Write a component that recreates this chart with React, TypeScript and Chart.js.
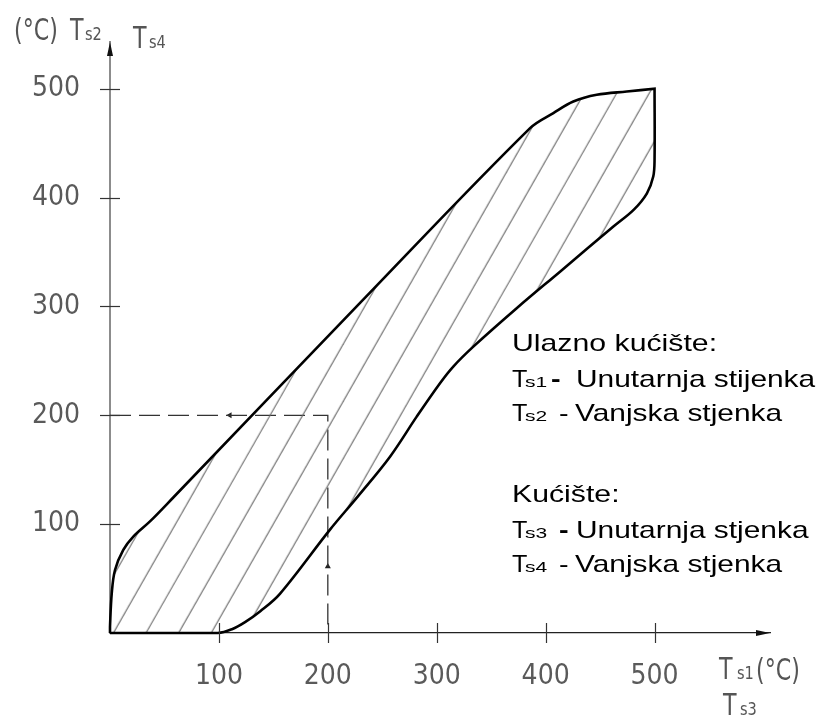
import React, { useEffect, useRef } from "react";
import { Chart, registerables } from "chart.js";

Chart.register(...registerables);

// Outline of the hatched band: upper branch (Ts2 / Ts4 vs Ts1 / Ts3), °C
const upperTs1 = [0, 0, 1.6, 4.6, 12.2, 21.4, 36.7, 58.1, 229.6, 385.7, 407.1, 425.4, 446.9, 474.5, 500];
const upperTs2 = [0, 5.8, 36.5, 57.9, 76.3, 88.5, 102.5, 124.5, 303.3, 463.9, 477.7, 488.3, 494.5, 497.5, 500];
// lower branch, walked back from (500, 500) to the origin
const lowerTs1 = [500, 500, 498.8, 493, 481, 462.2, 413.2, 373.4, 333.6, 315.2, 303, 281.6, 257.1, 228, 202, 156, 138, 124, 112, 99, 0];
const lowerTs2 = [500, 435, 419.4, 404, 389, 373.4, 332, 298.4, 263.1, 244.8, 229.5, 198.8, 162, 126, 95, 36, 20, 10, 3.5, 0, 0];

// dashed reading example (Ts1 = 200 -> Ts2 = 200)
const dashTs1 = [0, 200, 200];
const dashTs2 = [200, 200, 0];
// small arrow marks on the dashed line
const arrowTs1 = [110, 200];
const arrowTs2 = [200, 61];
const arrowRot = [-90, 0];

const tickValues = [100, 200, 300, 400, 500];
const xMax = 606;
const yMax = 543;

const legendLines = [
  { head: "Ulazno kućište:", sub: "", rest: "" },
  { head: "T", sub: "s1", rest: "Unutarnja stijenka" },
  { head: "T", sub: "s2", rest: "Vanjska stjenka" },
  { head: "Kućište:", sub: "", rest: "" },
  { head: "T", sub: "s3", rest: "Unutarnja stjenka" },
  { head: "T", sub: "s4", rest: "Vanjska stjenka" },
];

const ISO = '"Liberation Sans Narrow", "DejaVu Sans Condensed", sans-serif';
const SANS = '"Liberation Sans", Arial, sans-serif';
const ISO_SX = 0.82;

function drawScaled(ctx: CanvasRenderingContext2D, text: string, x: number, y: number, sx: number) {
  ctx.save();
  ctx.translate(x, y);
  ctx.scale(sx, 1);
  ctx.fillText(text, 0, 0);
  ctx.restore();
}

const decor = {
  id: "decor",
  afterDraw(chart: any) {
    const { ctx, chartArea: a, scales } = chart;
    const x = scales.x;
    const y = scales.y;
    ctx.save();
    // crossing tick marks
    ctx.strokeStyle = "#333";
    ctx.lineWidth = 1.2;
    x.ticks.forEach((t: any) => {
      const px = Math.round(x.getPixelForValue(t.value)) + 0.5;
      ctx.beginPath();
      ctx.moveTo(px, a.bottom - 10);
      ctx.lineTo(px, a.bottom + 10);
      ctx.stroke();
    });
    y.ticks.forEach((t: any) => {
      const py = Math.round(y.getPixelForValue(t.value)) + 0.5;
      ctx.beginPath();
      ctx.moveTo(a.left - 10, py);
      ctx.lineTo(a.left + 10, py);
      ctx.stroke();
    });
    // axis arrows
    ctx.fillStyle = "#111";
    ctx.beginPath();
    ctx.moveTo(a.left, a.top);
    ctx.lineTo(a.left - 3, a.top + 14);
    ctx.lineTo(a.left + 3, a.top + 14);
    ctx.closePath();
    ctx.fill();
    ctx.beginPath();
    ctx.moveTo(a.right, a.bottom);
    ctx.lineTo(a.right - 14, a.bottom - 3);
    ctx.lineTo(a.right - 14, a.bottom + 3);
    ctx.closePath();
    ctx.fill();

    // axis titles (ISO style)
    ctx.fillStyle = "#555";
    ctx.textBaseline = "alphabetic";
    ctx.textAlign = "left";
    const big = `30px ${ISO}`;
    const small = `17px ${ISO}`;
    // top-left
    ctx.font = big;
    drawScaled(ctx, "(°C)", a.left - 96, a.top - 2, ISO_SX);
    drawScaled(ctx, "T", a.left - 40, a.top - 2, ISO_SX);
    ctx.font = small;
    drawScaled(ctx, "s2", a.left - 25, a.top - 2, 0.95);
    ctx.font = big;
    drawScaled(ctx, "T", a.left + 23, a.top + 6, ISO_SX);
    ctx.font = small;
    drawScaled(ctx, "s4", a.left + 39, a.top + 6, 0.95);
    // bottom-right
    ctx.font = big;
    drawScaled(ctx, "T", a.right - 51, a.bottom + 46, ISO_SX);
    ctx.font = small;
    drawScaled(ctx, "s1", a.right - 33, a.bottom + 46, 0.95);
    ctx.font = big;
    drawScaled(ctx, "(°C)", a.right - 14, a.bottom + 47, ISO_SX);
    drawScaled(ctx, "T", a.right - 47, a.bottom + 82, ISO_SX);
    ctx.font = small;
    drawScaled(ctx, "s3", a.right - 30, a.bottom + 82, 0.95);

    // legend text
    ctx.fillStyle = "#000";
    const lx = 512;
    const baselines = [351, 387, 421, 502, 538, 572];
    const dashX = [0, 551, 559, 0, 559, 559];
    const restX = [0, 576, 575, 0, 576, 575];
    legendLines.forEach((ln, i) => {
      const by = baselines[i];
      ctx.font = `24px ${SANS}`;
      if (!ln.sub) {
        drawScaled(ctx, ln.head, lx, by, 1.26);
        return;
      }
      drawScaled(ctx, ln.head, lx, by, 1.05);
      ctx.font = `15px ${SANS}`;
      drawScaled(ctx, ln.sub, lx + 13, by, 1.4);
      ctx.font = (i === 1 || i === 4 ? "bold " : "") + `24px ${SANS}`;
      drawScaled(ctx, "-", dashX[i], by, 1.2);
      ctx.font = `24px ${SANS}`;
      drawScaled(ctx, ln.rest, restX[i], by, 1.245);
    });
    ctx.restore();
  },
};

export default function App() {
  const ref = useRef<HTMLCanvasElement>(null);

  useEffect(() => {
    const canvas = ref.current;
    if (!canvas) return;
    const ctx2 = canvas.getContext("2d")!;

    // hatch pattern
    const tile = document.createElement("canvas");
    tile.width = 163;
    tile.height = 286;
    const tctx = tile.getContext("2d")!;
    tctx.strokeStyle = "#6a6a6a";
    tctx.lineWidth = 1.1;
    const s = 286 / 163;
    for (let k = -1; k <= 11; k++) {
      const c = k * 57.2;
      tctx.beginPath();
      tctx.moveTo(-20, c + s * 20);
      tctx.lineTo(183, c - s * 183);
      tctx.stroke();
    }
    const pattern = ctx2.createPattern(tile, "repeat")!;
    pattern.setTransform(new DOMMatrix([1, 0, 0, 1, 17.7, 0]));

    const outline = upperTs1
      .map((v, i) => ({ x: v, y: upperTs2[i] }))
      .concat(lowerTs1.map((v, i) => ({ x: v, y: lowerTs2[i] })));
    const dash = dashTs1.map((v, i) => ({ x: v, y: dashTs2[i] }));
    const arrows = arrowTs1.map((v, i) => ({ x: v, y: arrowTs2[i] }));

    const chart = new Chart(canvas, {
      type: "scatter",
      data: {
        datasets: [
          {
            data: outline,
            showLine: true,
            tension: 0.35,
            borderColor: "#000",
            borderWidth: 2.6,
            pointRadius: 0,
            fill: "shape",
            backgroundColor: pattern as any,
            clip: false as any,
          },
          {
            data: dash,
            showLine: true,
            tension: 0,
            borderColor: "#333",
            borderWidth: 1.3,
            borderDash: [21, 8],
            pointRadius: 0,
            fill: false,
          },
          {
            data: arrows,
            showLine: false,
            pointStyle: "triangle",
            rotation: (c: any) => arrowRot[c.dataIndex] ?? 0,
            pointRadius: 3.5,
            backgroundColor: "#222",
            borderColor: "#222",
            borderWidth: 0,
          },
        ],
      },
      options: {
        animation: false,
        responsive: false,
        devicePixelRatio: 1,
        events: [],
        layout: { padding: { top: 42, right: 56, left: 0, bottom: 0 } },
        plugins: { legend: { display: false }, tooltip: { enabled: false } },
        scales: {
          x: {
            type: "linear",
            min: 0,
            max: xMax,
            afterBuildTicks: (sc: any) => {
              sc.ticks = tickValues.map((v) => ({ value: v }));
            },
            afterFit: (sc: any) => {
              sc.height = 84;
              sc.paddingLeft = 0;
              sc.paddingRight = 0;
            },
            grid: { display: false, drawTicks: false },
            border: { display: true, color: "#222", width: 1.3 },
            ticks: {
              padding: 27,
              color: "#5a5a5a",
              maxRotation: 0,
              font: { family: ISO, size: 28 },
              callback: (v: any) => String(v),
            },
          },
          y: {
            type: "linear",
            min: 0,
            max: yMax,
            afterBuildTicks: (sc: any) => {
              sc.ticks = tickValues.map((v) => ({ value: v }));
            },
            afterFit: (sc: any) => {
              sc.width = 110;
              sc.paddingTop = 0;
              sc.paddingBottom = 0;
            },
            grid: { display: false, drawTicks: false },
            border: { display: true, color: "#8c8c8c", width: 2 },
            ticks: {
              padding: 30,
              color: "#5a5a5a",
              font: { family: ISO, size: 28 },
              callback: (v: any) => String(v),
            },
          },
        },
      } as any,
      plugins: [decor],
    });
    return () => chart.destroy();
  }, []);

  return (
    <div style={{ position: "fixed", left: 0, top: 0, width: 826, height: 717, background: "#fff" }}>
      <canvas ref={ref} width={826} height={717} style={{ display: "block", width: 826, height: 717 }} />
    </div>
  );
}
